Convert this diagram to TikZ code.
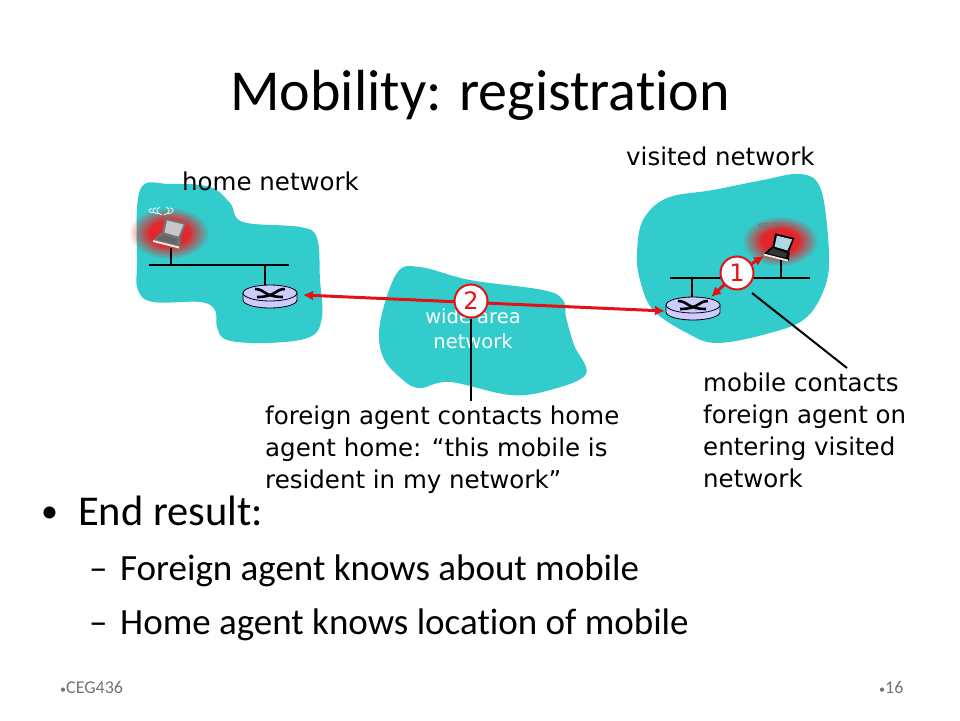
\documentclass[tikz,border=0pt]{standalone}
\usepackage{fontspec}
\setmainfont[Ligatures=NoCommon]{Carlito}
\newfontfamily\lblfont{DejaVu Sans}
\usetikzlibrary{fadings,arrows.meta}
\definecolor{blob}{RGB}{51,204,204}
\definecolor{routerc}{RGB}{204,204,255}
\definecolor{redc}{RGB}{228,18,24}
\definecolor{glowc}{RGB}{226,38,44}
\pgfdeclareradialshading{glowshade}{\pgfpointorigin}{color(0bp)=(white); color(12bp)=(white); color(25bp)=(black); color(50bp)=(black)}
\pgfdeclarefading{glowfade}{\pgfuseshading{glowshade}}
\tikzset{
 lbl/.style={font=\lblfont\fontsize{24.5}{32}\selectfont,anchor=base west,inner sep=0pt,align=left,text=black},
 wan/.style={font=\lblfont\fontsize{19.5}{25}\selectfont,text=white,align=center,inner sep=0pt},
 titlefont/.style={font=\fontsize{58}{60}\selectfont,inner sep=0pt,anchor=base},
 lvlone/.style={font=\fontsize{42.5}{44}\selectfont,inner sep=0pt,anchor=base west},
 lvltwo/.style={font=\fontsize{37}{40}\selectfont,inner sep=0pt,anchor=base west},
 bulletfont/.style={font=\fontsize{34}{36}\selectfont,inner sep=0pt,anchor=base west},
 foot/.style={font=\fontsize{18}{20}\selectfont,text=black!55,inner sep=0pt,anchor=base west},
 bus/.style={line width=2pt,black},
 callout/.style={line width=2pt,black},
 redarrow/.style={line width=3pt,redc,{Latex[length=10pt,width=10pt]}-{Latex[length=10pt,width=10pt]}},
 badge/.style={circle,draw=redc,fill=white,line width=2pt,minimum size=33pt,inner sep=0pt,text=redc,font=\lblfont\fontsize{24}{26}\selectfont},
 routerbox/.style={minimum width=54pt,minimum height=24pt,inner sep=0pt},
 pics/router/.style={code={
   \fill[routerc,draw=black,line width=.8pt] (-27,-4) -- (-27,3) arc[start angle=180,end angle=0,x radius=27,y radius=8] -- (27,-4) -- cycle;
   \draw[fill=routerc,draw=black,line width=.8pt] (0,-4) ellipse[x radius=27,y radius=8];
   \draw[black,line width=2.6pt] (-15,-8) .. controls (-5,-8) and (-6,0) .. (13,0);
   \draw[black,line width=2.6pt] (15,-8) .. controls (5,-8) and (6,0) .. (-13,0);
 }},
}
\newcommand{\wavemarks}[1]{%
   \foreach \d in {0,4,8}{\draw[#1,line width=.8pt] (-3-\d,-4+.2*\d) .. controls (-8-\d,-2) and (-7-\d,2) .. (-1-\d,4-.3*\d);}
   \foreach \d in {0,4}{\draw[#1,line width=.8pt] (3+\d,-4+.2*\d) .. controls (8+\d,-2) and (7+\d,2) .. (1+\d,4-.3*\d);}
}
\newcommand{\laptop}[4]{% lid, screen, keyboard, lip
  \fill[#1] (12,-30) -- (33,-25) -- (27,-9) -- (9,-15) -- cycle;
  \fill[#2] (14,-27.5) -- (30.5,-23.5) -- (25.5,-11.5) -- (11.5,-15.5) -- cycle;
  \fill[#1] (0,-8) -- (9,-16) -- (28,-9) -- (27,0) -- cycle;
  \fill[#3] (3.5,-8.5) -- (10,-14) -- (25,-8.5) -- (23.5,-3.5) -- cycle;
  \fill[#4] (0,-8) -- (26,-1.5) -- (26,.5) -- (0,-6) -- cycle;
}
\begin{document}
\begin{tikzpicture}[x=1pt,y=-1pt]
\useasboundingbox (0,0) rectangle (960,720);
% network clouds
\fill[blob] plot[smooth cycle,tension=.6] coordinates {(140,190)(170,184)(210,187)(230,203)(243,222)(300,227)(317,238)(320,280)(322,317)(310,337)(267,343)(227,340)(217,327)(215,310)(200,302)(153,302)(138,290)(137,263)};
\fill[blob] plot[smooth cycle,tension=.6] coordinates {(637,253)(643,220)(667,198)(713,190)(763,180)(800,174)(820,187)(828,237)(827,280)(807,317)(770,333)(717,343)(687,333)(653,310)(640,280)};
\fill[blob] plot[smooth cycle,tension=.6] coordinates {(420,267)(397,273)(380,323)(383,357)(403,380)(420,388)(450,382)(510,395)(550,390)(586,374)(574,345)(566,317)(563,300)(543,290)(470,280)};
% glows
\fill[glowc,path fading=glowfade] (169,233) ellipse[x radius=40,y radius=26];
\fill[glowc,path fading=glowfade] (780,241) ellipse[x radius=38,y radius=25];
% labels
\node[lbl] (homelbl) at (182,190) {home network};
\node[lbl] (vislbl) at (626,165) {visited network};
\node[wan] (wanlbl) at (473,329) {wide area\\network};
% buses
\coordinate (hbl) at (149,265); \coordinate (hbr) at (289,265);
\coordinate (vbl) at (670,278); \coordinate (vbr) at (810,278);
\draw[bus] (hbl) -- (hbr);
\draw[bus] (vbl) -- (vbr);
% routers and laptops
\node[routerbox] (hrouter) at (270,297) {};
\node[routerbox] (vrouter) at (693,309) {};
\coordinate (hlap) at (171,248); \coordinate (vlap) at (781,260);
\coordinate (hdrop) at (171,265); \coordinate (vdrop) at (781,278);
\coordinate (hrdrop) at (265,265); \coordinate (vrdrop) at (692,278);
\draw[bus] (hlap) -- (hdrop);
\draw[bus] (vlap) -- (vdrop);
\draw[bus] (hrdrop) -- (hrdrop |- hrouter.north);
\draw[bus] (vrdrop) -- (vrdrop |- vrouter.north);
\pic at (270,297) {router};
\pic at (693,309) {router};
\begin{scope}[shift={(153,248)}] \laptop{black!55}{black!22}{black!60}{white!80!brown} \end{scope}
\begin{scope}[shift={(764,261)},scale=.92] \laptop{black}{cyan!30!white!80!gray}{black!80}{white!85!brown} \end{scope}
\begin{scope}[shift={(163,211)}] \wavemarks{white!90!blob} \end{scope}
\begin{scope}[shift={(771,225.5)},scale=.85] \wavemarks{black!55} \end{scope}
% red connectors and badges
\coordinate (harrow) at (303,295); \coordinate (varrow) at (665,311);
\coordinate (lapend) at (764,256); \coordinate (rtend) at (711,297);
\draw[redarrow] (harrow) -- (varrow);
\node[badge] (one) at (737,273) {1};
\node[badge] (two) at (471,301) {2};
\draw[redarrow,-{Latex[length=10pt,width=10pt]}] (one) -- (lapend);
\draw[redarrow,-{Latex[length=10pt,width=10pt]}] (one) -- (rtend);
% callouts
\node[lbl] (fa) at (265,488) {foreign agent contacts home\\agent home: “this mobile is\\resident in my network”};
\node[lbl] (mc) at (703,487) {mobile contacts\\foreign agent on\\entering visited\\network};
\coordinate (facall) at (471,401);
\coordinate (mcs) at (752,293); \coordinate (mcall) at (847,368);
\draw[callout] (two) -- (facall);
\draw[callout] (mcs) -- (mcall);
% slide text
\node[titlefont] (title) at (480,110) {Mobility: registration};
\node[bulletfont] (b1) at (41,522) {•};
\node[lvlone] (t1) at (78,525) {End result:};
\node[lvltwo] (d1) at (89,580) {–};
\node[lvltwo] (t2) at (120,580) {Foreign agent knows about mobile};
\node[lvltwo] (d2) at (89,634) {–};
\node[lvltwo] (t3) at (120,634) {Home agent knows location of mobile};
\node[foot] (f1) at (60,693) {{\fontsize{12}{12}\selectfont•}CEG436};
\node[foot] (f2) at (879,693) {{\fontsize{12}{12}\selectfont•}16};
\end{tikzpicture}
\end{document}
